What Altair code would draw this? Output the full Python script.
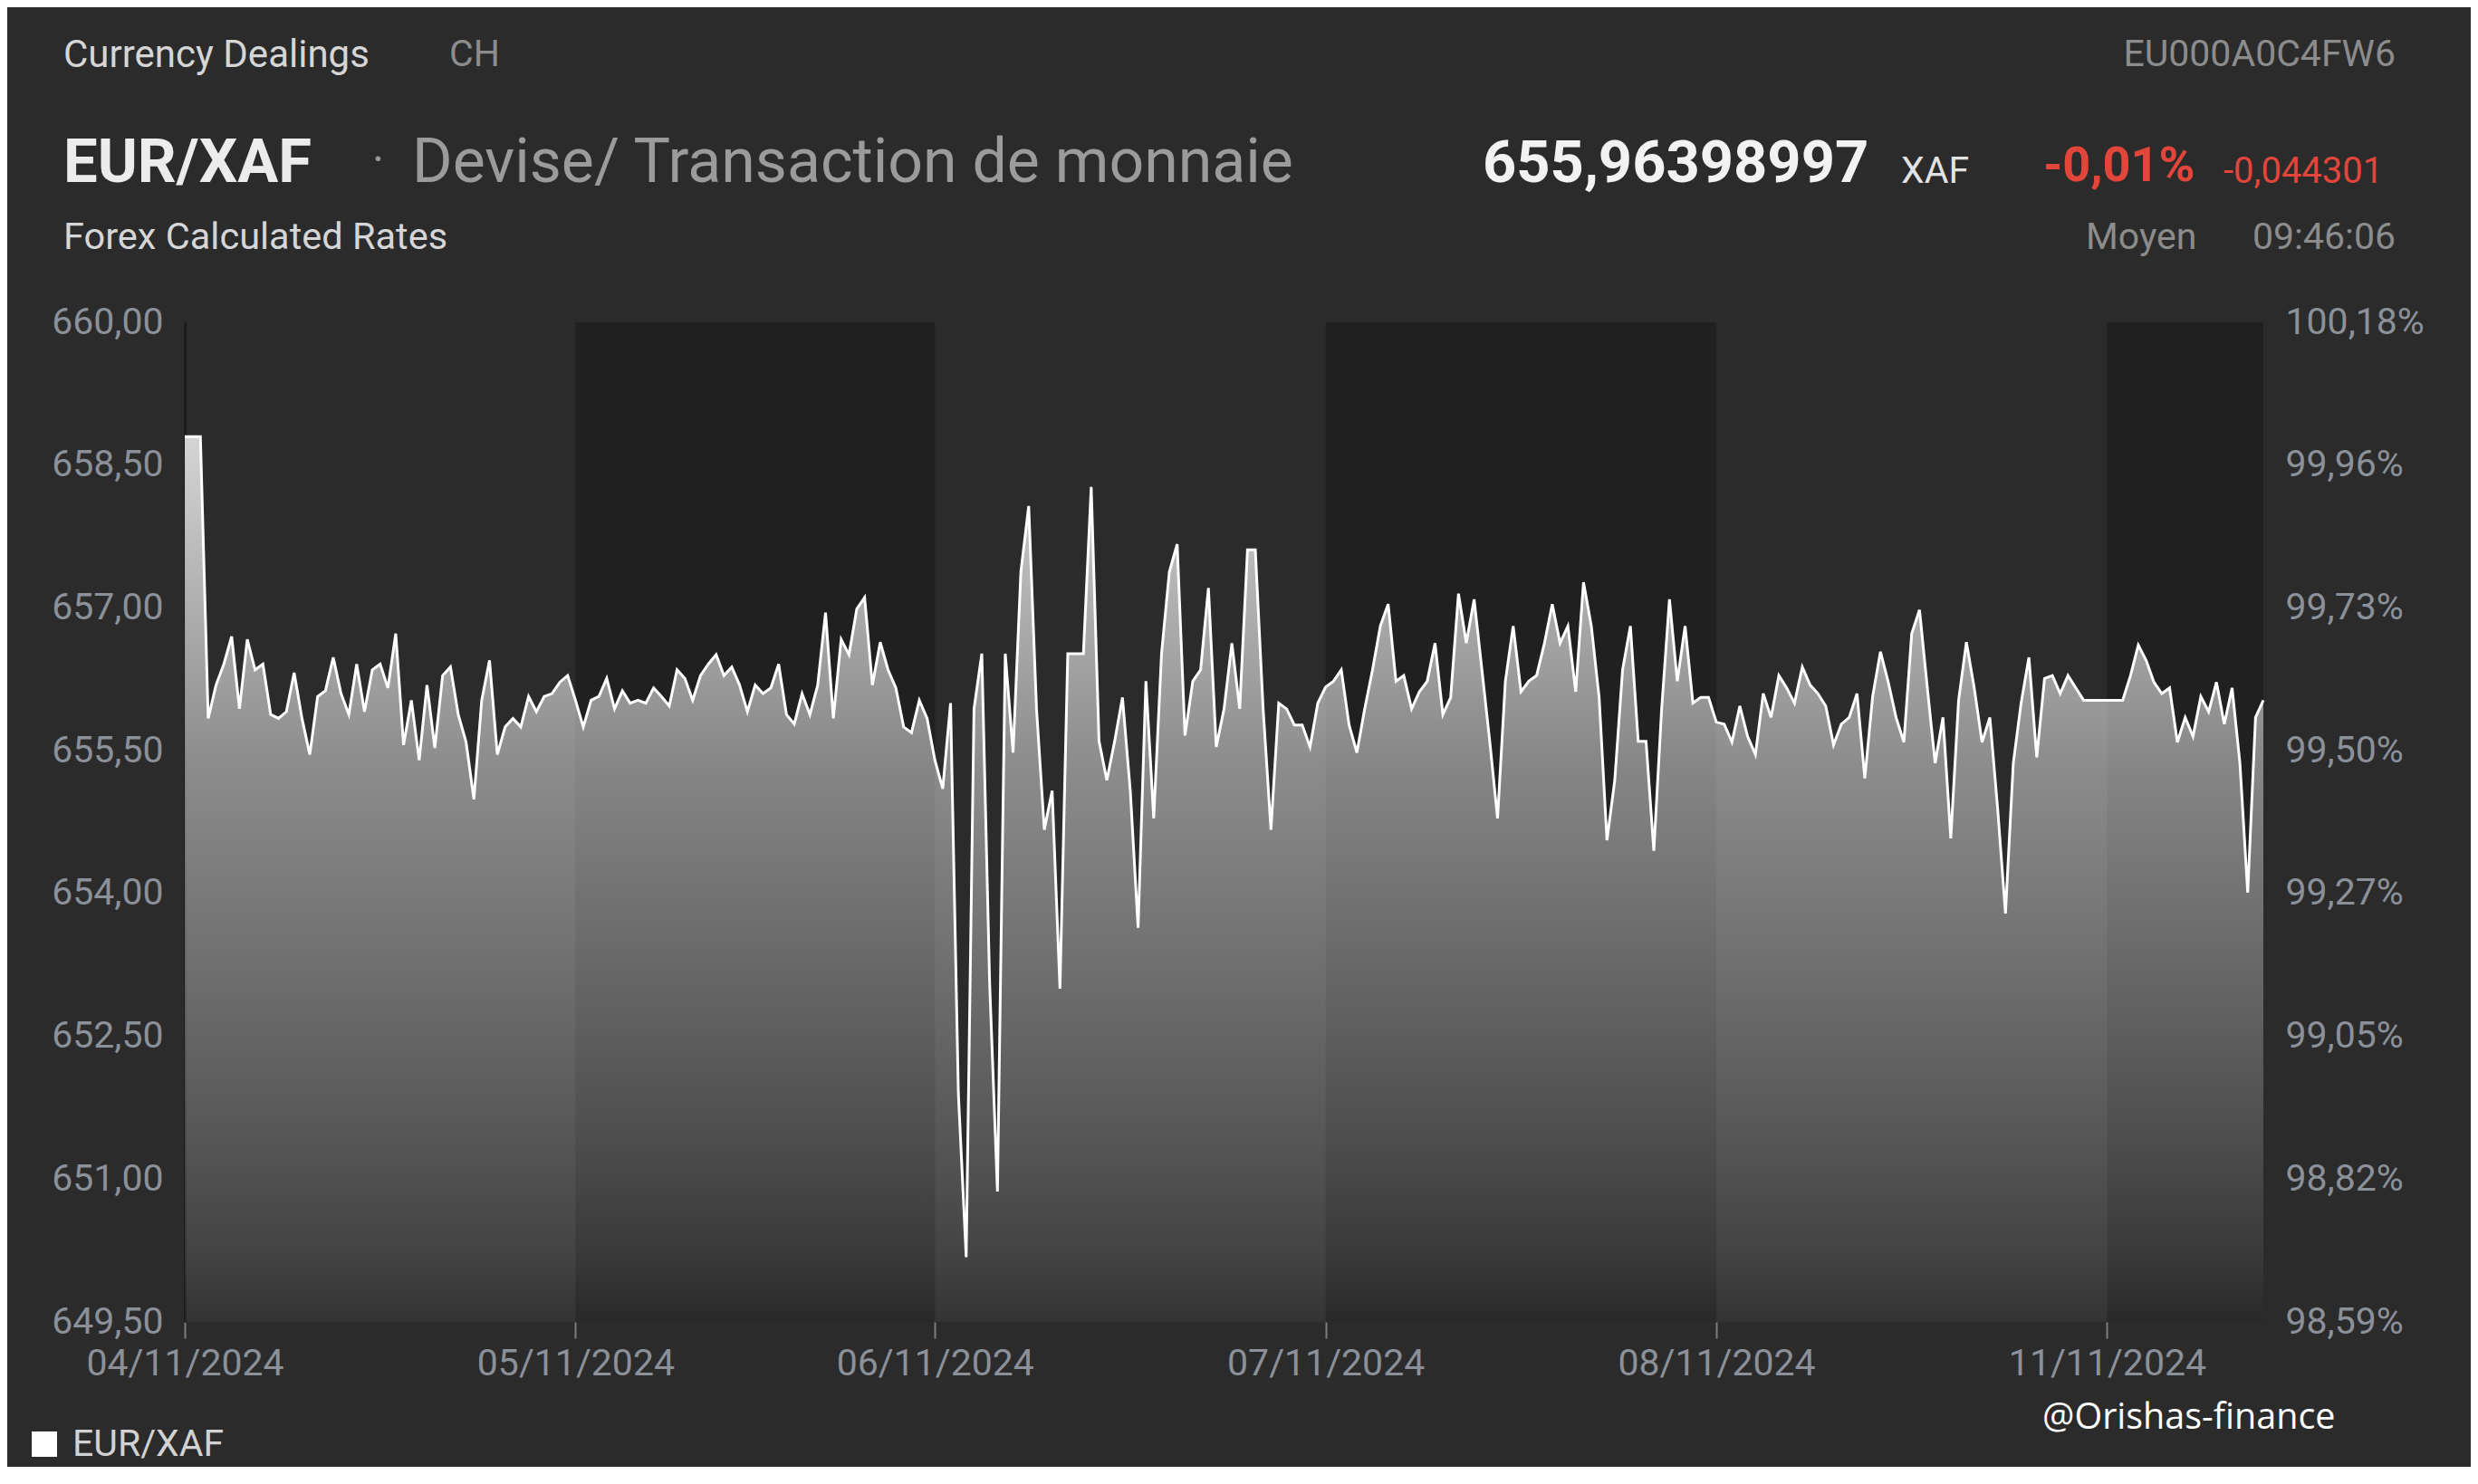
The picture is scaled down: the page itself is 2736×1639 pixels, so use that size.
import altair as alt
import pandas as pd

# ---------------- data ----------------
DATES = ["04/11/2024", "05/11/2024", "06/11/2024", "07/11/2024", "08/11/2024", "11/11/2024"]

D04 = [658.8, 658.8, 658.8, 655.84, 656.19, 656.41, 656.7, 655.94, 656.67, 656.35,
       656.41, 655.88, 655.84, 655.91, 656.32, 655.84, 655.46, 656.07, 656.13, 656.48,
       656.10, 655.88, 656.41, 655.91, 656.35, 656.41, 656.16, 656.73, 655.56, 656.03,
       655.40, 656.19, 655.53, 656.29, 656.38, 655.88, 655.59, 654.99, 656.03, 656.45,
       655.46, 655.75, 655.84, 655.75, 656.07, 655.91, 656.07, 656.10, 656.22, 656.29]
D05 = [656.03, 655.75, 656.03, 656.07, 656.26, 655.94, 656.13, 656.0, 656.03, 656.0,
       656.16, 656.07, 655.97, 656.35, 656.26, 656.03, 656.29, 656.41, 656.51, 656.29,
       656.38, 656.19, 655.91, 656.19, 656.10, 656.16, 656.41, 655.88, 655.78, 656.10,
       655.88, 656.19, 656.95, 655.84, 656.67, 656.51, 656.99, 657.11, 656.19, 656.64,
       656.35, 656.16, 655.75, 655.69, 656.03, 655.84]
D06 = [655.4, 655.1, 656.0, 651.9, 650.18, 655.94, 656.52, 653.06, 650.87, 656.52,
       655.48, 657.38, 658.07, 655.94, 654.67, 655.08, 653.0, 656.52, 656.52, 656.52,
       658.27, 655.6, 655.19, 655.6, 656.06, 655.08, 653.64, 656.23, 654.79, 656.52,
       657.38, 657.67, 655.66, 656.23, 656.35, 657.21, 655.54, 655.94, 656.63, 655.94,
       657.61, 657.61, 655.94, 654.67, 656.0, 655.94, 655.77, 655.77, 655.54, 656.0]
D07 = [656.17, 656.23, 656.35, 655.77, 655.48, 655.94, 656.35, 656.81, 657.04, 656.23,
       656.29, 655.94, 656.12, 656.23, 656.63, 655.88, 656.06, 657.15, 656.63, 657.09,
       656.35, 655.6, 654.79, 656.23, 656.81, 656.12, 656.23, 656.29, 656.63, 657.04,
       656.63, 656.81, 656.12, 657.27, 656.81, 656.06, 654.56, 655.19, 656.35, 656.81,
       655.6, 655.6, 654.45, 655.94, 657.09, 656.23, 656.81, 656.0, 656.06, 656.06]
D08 = [655.8, 655.78, 655.59, 655.97, 655.65, 655.46, 656.10, 655.85, 656.29, 656.16,
       656.0, 656.38, 656.19, 656.10, 655.97, 655.56, 655.78, 655.85, 656.10, 655.21,
       656.07, 656.54, 656.22, 655.85, 655.59, 656.73, 656.98, 656.16, 655.37, 655.85,
       654.58, 656.03, 656.64, 656.16, 655.59, 655.85, 654.89, 653.79, 655.37, 656.0,
       656.48, 655.43, 656.26, 656.29, 656.10, 656.29, 656.16, 656.03, 656.03, 656.03]
D11 = [656.03, 656.03, 656.03, 656.29, 656.61, 656.45, 656.22, 656.10, 656.16, 655.59,
       655.85, 655.65, 656.07, 655.91, 656.22, 655.78, 656.16, 655.37, 654.01, 655.85,
       656.03]
DAYS = [D04, D05, D06, D07, D08, D11]

Y_TICKS = [649.5, 651.0, 652.5, 654.0, 655.5, 657.0, 658.5, 660.0]
PCT_LABELS = ["98,59%", "98,82%", "99,05%", "99,27%", "99,50%", "99,73%", "99,96%", "100,18%"]

SERIES = "EUR/XAF"

# ---------------- build tables ----------------
rows, day_start, idx = [], [], 0
for vals in DAYS:
    day_start.append(idx)
    for v in vals:
        rows.append({"i": idx, "v": v})
        idx += 1
last = idx - 1
df = pd.DataFrame(rows)

bands = pd.DataFrame([
    {"s": day_start[k], "e": day_start[k + 1] if k + 1 < len(day_start) else last}
    for k in range(1, len(DAYS), 2)
])

# ---------------- layout ----------------
W, H = 2295, 1104
PAD_L, PAD_T = 196, 348
OX, OY = 8 + PAD_L, 8 + PAD_T  # page position of the plot origin

BG = "#2b2b2b"
AXIS_COL = "#8b9099"
FONT = "Roboto"

x_scale = alt.Scale(domain=[0, last], nice=False, zero=False)
y_scale = alt.Scale(domain=[Y_TICKS[0], Y_TICKS[-1]], nice=False, zero=False)

x_label_expr = " : ".join(
    [f"datum.value == {s} ? '{d}'" for s, d in zip(day_start, DATES)]) + " : ''"
pct_expr = " : ".join(
    [f"datum.value == {t} ? '{p}'" for t, p in zip(Y_TICKS, PCT_LABELS)]) + " : ''"

x_axis = alt.Axis(values=day_start, labelExpr=x_label_expr, title=None, grid=False,
                  domain=False, ticks=True, tickSize=18, tickWidth=2, tickColor="#7d7d7d",
                  labelColor=AXIS_COL, labelFont=FONT, labelFontSize=41, labelPadding=8,
                  labelFlush=False, labelOverlap=False, labelLimit=1000)
left_axis = alt.Axis(values=Y_TICKS, orient="left",
                     labelExpr="replace(format(datum.value, '.2f'), '.', ',')",
                     title=None, grid=False, ticks=False, domain=True, domainColor="#1b1b1b",
                     domainWidth=3, labelColor=AXIS_COL, labelFont=FONT, labelFontSize=41,
                     labelPadding=24, labelLimit=1000)
right_axis = alt.Axis(values=Y_TICKS, orient="right", labelExpr=pct_expr, title=None,
                      grid=False, ticks=False, domain=False, labelColor=AXIS_COL,
                      labelFont=FONT, labelFontSize=41, labelPadding=24, labelLimit=1000)

band_layer = alt.Chart(bands).mark_rect(color="#202020").encode(
    x=alt.X("s:Q", scale=x_scale, axis=x_axis),
    x2="e:Q",
    y=alt.Y(datum=Y_TICKS[-1], type="quantitative", scale=y_scale, axis=None),
    y2=alt.datum(Y_TICKS[0]),
)

gradient = alt.Gradient(
    gradient="linear",
    stops=[
        alt.GradientStop(color="rgba(255,255,255,0.80)", offset=0),
        alt.GradientStop(color="rgba(255,255,255,0.46)", offset=0.37),
        alt.GradientStop(color="rgba(255,255,255,0.31)", offset=0.62),
        alt.GradientStop(color="rgba(255,255,255,0.20)", offset=0.80),
        alt.GradientStop(color="rgba(255,255,255,0.11)", offset=0.93),
        alt.GradientStop(color="rgba(255,255,255,0.04)", offset=1),
    ],
    x1=1, x2=1, y1=0, y2=1,
)

area_layer = alt.Chart(df).mark_area(color=gradient).encode(
    x=alt.X("i:Q", scale=x_scale, axis=x_axis),
    y=alt.Y("v:Q", scale=y_scale, axis=left_axis),
    y2=alt.datum(Y_TICKS[0]),
)

line_layer = alt.Chart(df).mark_line(color="#ffffff", strokeWidth=3).encode(
    x=alt.X("i:Q", scale=x_scale, axis=x_axis),
    y=alt.Y("v:Q", scale=y_scale, axis=right_axis),
)

one = pd.DataFrame({"k": [0]})


def label(text, px, py, size=41, color="#d6d6d6", weight="normal", align="left", font=FONT):
    return alt.Chart(one).mark_text(
        text=text, font=font, fontSize=size, color=color, fontWeight=weight,
        align=align, baseline="middle",
    ).encode(x=alt.value(px - OX), y=alt.value(py - OY))


texts = [
    label("Currency Dealings", 70, 61, size=42),
    label("CH", 496, 61, color="#8c8c8c"),
    label("EU000A0C4FW6", 2645, 61, color="#8c8c8c", align="right"),
    label("EUR/XAF", 70, 181, size=67, color="#ececec", weight="bold"),
    label("·", 411, 178, size=50, color="#9a9a9a"),
    label("Devise/ Transaction de monnaie", 455, 181, size=68, color="#9b9b9b"),
    label("655,96398997", 1637, 181, size=65, color="#f2f2f2", weight="bold"),
    label("XAF", 2099, 190, size=41, color="#e2e2e2"),
    label("-0,01%", 2256, 184, size=54, color="#e2463b", weight="bold"),
    label("-0,044301", 2455, 190, size=40, color="#e2463b"),
    label("Forex Calculated Rates", 70, 263, size=41.5),
    label("Moyen", 2303, 263, color="#8c8c8c"),
    label("09:46:06", 2645, 263, color="#8c8c8c", align="right"),
    label(SERIES, 80, 1596, color="#d2d2d2"),
    label("@Orishas-finance", 2255, 1566, size=39.5, color="#ffffff", font="Open Sans"),
]

legend_square = alt.Chart(one).mark_square(color="#ffffff", opacity=1, size=784).encode(
    x=alt.value(49 - OX), y=alt.value(1595 - OY)
)

chart = alt.layer(band_layer, area_layer, line_layer, legend_square, *texts).resolve_axis(
    y="independent"
).properties(
    width=W, height=H,
    autosize=alt.AutoSizeParams(type="none"),
    padding={"left": PAD_L, "top": PAD_T, "right": 2720 - PAD_L - W, "bottom": 160},
    background=BG,
).configure_view(stroke=None)

chart.save("out.html", embed_options={"renderer": "svg", "actions": False})
